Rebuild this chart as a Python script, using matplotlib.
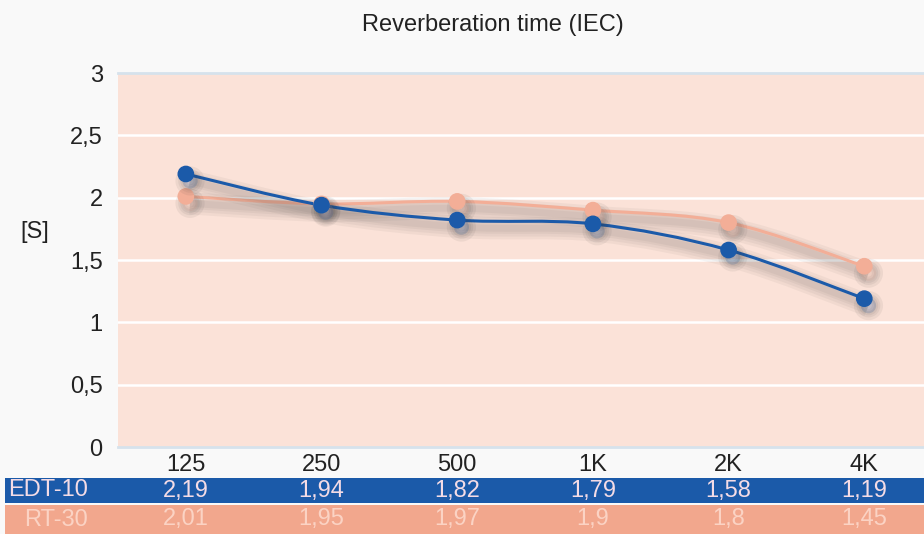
import numpy as np
import matplotlib.pyplot as plt
import matplotlib.patheffects as pe
from matplotlib.path import Path
from matplotlib.patches import PathPatch, Rectangle
from matplotlib.transforms import blended_transform_factory

plt.rcParams['font.family'] = ['Liberation Sans', 'DejaVu Sans']

# datos
bandas = ['125', '250', '500', '1K', '2K', '4K']
edt10 = [2.19, 1.94, 1.82, 1.79, 1.58, 1.19]
rt30 = [2.01, 1.95, 1.97, 1.9, 1.8, 1.45]
etiquetas_y = ['0', '0,5', '1', '1,5', '2', '2,5', '3']

azul = '#1b5aa9'
rosa = '#f3ae97'
fondo = '#fbe2d8'
tam = 17


def curva_suave(xs, ys):
    # Catmull-Rom -> bezier cubica
    p = np.column_stack([xs, ys]).astype(float)
    verts = [p[0]]
    codes = [Path.MOVETO]
    n = len(p)
    for i in range(n - 1):
        p0 = p[i - 1] if i > 0 else p[i]
        p3 = p[i + 2] if i + 2 < n else p[i + 1]
        c1 = p[i] + (p[i + 1] - p0) / 6
        c2 = p[i + 1] - (p3 - p[i]) / 6
        verts += [c1, c2, p[i + 1]]
        codes += [Path.CURVE4] * 3
    return Path(verts, codes)


# sombra difusa: varias capas transparentes
sombra_linea = [pe.SimpleLineShadow(offset=(3, -5), shadow_color='#3a3a3a', alpha=0.05,
                                    linewidth=w) for w in (16, 12, 8, 5)] + [pe.Normal()]
sombra_punto = [pe.Stroke(linewidth=w, foreground='#3a3a3a', alpha=0.07, offset=(3, -5))
                for w in (10, 6, 3)] + [pe.Normal()]

fig = plt.figure(figsize=(9.24, 5.34), dpi=100, facecolor='#f9f9f9')
ax = fig.add_axes([118 / 924, 1 - 447 / 534, 1 - 118 / 924, 374 / 534])
ax.set_facecolor(fondo)
x = np.arange(len(bandas))
ax.set_xlim(-0.5, 5.44)
ax.set_ylim(0, 3)

for v in np.arange(0.5, 3, 0.5):
    ax.axhline(v, color='white', lw=1.8, zorder=1)
ax.axhline(0, color='#d6e2ec', lw=2, zorder=1, clip_on=False)
ax.axhline(3, color='#d6e2ec', lw=2, zorder=1, clip_on=False)

for serie, color in [(rt30, rosa), (edt10, azul)]:
    ruta = curva_suave(x, serie)
    ax.add_patch(PathPatch(ruta, fill=False, edgecolor=color, lw=2.2, zorder=3,
                           path_effects=sombra_linea))
    ax.plot(x, serie, 'o', color=color, ms=11, zorder=4, path_effects=sombra_punto)

for s in ax.spines.values():
    s.set_visible(False)
ax.set_xticks(x)
ax.set_xticklabels(bandas, fontsize=tam, color='#222222')
ax.set_yticks(np.arange(0, 3.01, 0.5))
ax.set_yticklabels(etiquetas_y, fontsize=tam, color='#222222')
ax.tick_params(length=0)
ax.tick_params(axis='x', pad=5)
ax.tick_params(axis='y', pad=11)

fig.text(493 / 924, 1 - 25 / 534, 'Reverberation time (IEC)', ha='center', va='center',
         fontsize=tam, color='#222222')
fig.text(35 / 924, 1 - 232 / 534, '[S]', ha='center', va='center', fontsize=tam, color='#222222')

# tabla de valores
filas = [('EDT-10', edt10, azul, '#f4dce6', 478, 503),
         ('RT-30', rt30, '#f2a78d', '#fbd3c4', 505, 534)]
trans = blended_transform_factory(ax.transData, fig.transFigure)
for nombre, vals, cf, ct, y0, y1 in filas:
    fig.patches.append(Rectangle((5 / 924, 1 - y1 / 534), 1, (y1 - y0) / 534,
                                 transform=fig.transFigure, facecolor=cf, edgecolor='none'))
    ym = 1 - (y0 + y1) / 2 / 534
    fig.text(88 / 924, ym, nombre, ha='right', va='center', fontsize=tam, color=ct)
    for xi, v in zip(x, vals):
        fig.text(xi, ym, ('%g' % v).replace('.', ','), ha='center', va='center',
                 fontsize=tam, color=ct, transform=trans)

fig.savefig('out.png', dpi=100, facecolor=fig.get_facecolor())
